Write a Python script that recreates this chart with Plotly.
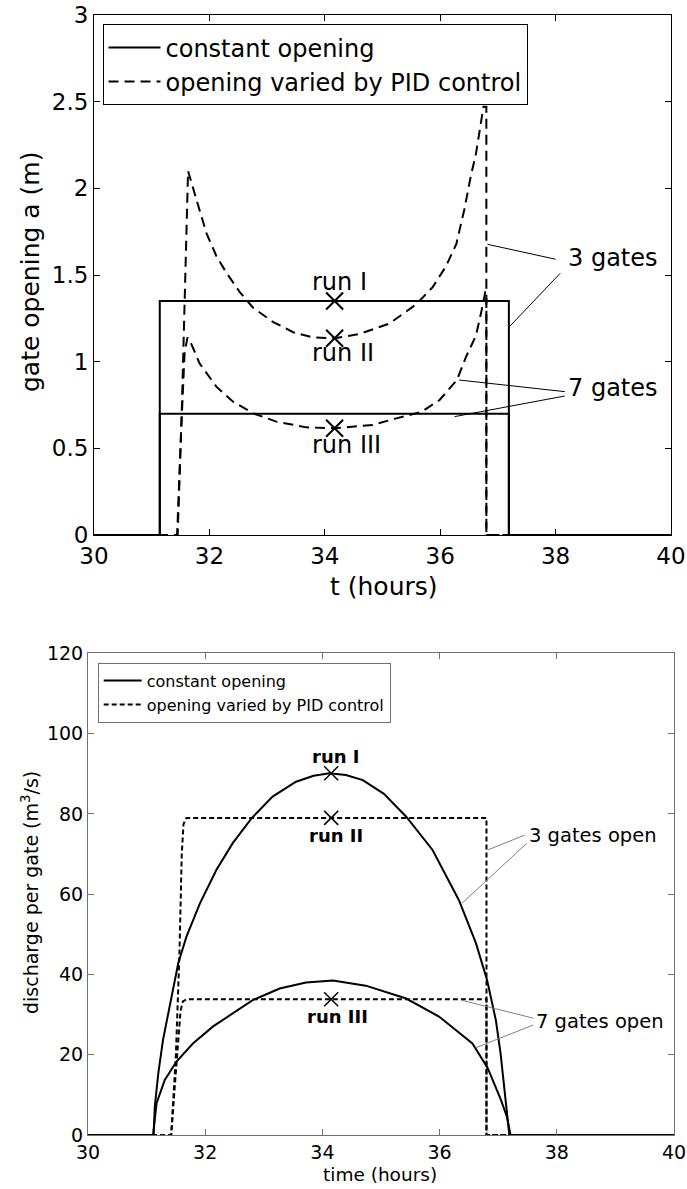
import plotly.graph_objects as go

# ---------------- data: top chart (gate opening) ----------------
t_const = [30, 31.14, 31.14, 37.19, 37.19, 40]
a_const_3 = [0, 0, 1.35, 1.35, 0, 0]
a_const_7 = [0, 0, 0.70, 0.70, 0, 0]

t_pid3 = [30, 31.45, 31.52, 31.57, 31.61, 31.63, 31.78, 31.95, 32.12, 32.30, 32.53, 32.76,
          33.10, 33.45, 33.79, 34.17, 34.60, 35.12, 35.58, 35.87, 36.10, 36.28, 36.42,
          36.53, 36.62, 36.71, 36.75, 36.80, 36.80, 40]
a_pid3 = [0, 0, 0.70, 1.40, 2.00, 2.10, 1.93, 1.74, 1.61, 1.51, 1.40, 1.31,
          1.23, 1.17, 1.14, 1.135, 1.16, 1.22, 1.33, 1.43, 1.55, 1.68, 1.88,
          2.07, 2.20, 2.40, 2.47, 2.47, 0, 0]

t_pid7 = [30, 31.44, 31.51, 31.57, 31.62, 31.69, 31.83, 32.12, 32.41, 32.76, 33.16, 33.68,
          34.17, 34.83, 35.24, 35.68, 35.99, 36.29, 36.45, 36.62, 36.72, 36.78, 36.80, 36.80, 40]
a_pid7 = [0, 0, 0.60, 1.05, 1.14, 1.10, 0.99, 0.856, 0.769, 0.702, 0.654, 0.621,
          0.616, 0.635, 0.673, 0.711, 0.779, 0.894, 1.03, 1.15, 1.30, 1.40, 1.40, 0, 0]

runs_top_t = [34.17, 34.17, 34.17]
runs_top_a = [1.35, 1.135, 0.616]

# ---------------- data: bottom chart (discharge) ----------------
t_q3 = [30, 31.12, 31.14, 31.20, 31.28, 31.40, 31.54, 31.68, 31.91, 32.19, 32.47, 32.79,
        33.15, 33.55, 33.85, 34.12, 34.40, 34.69, 35.05, 35.43, 35.88, 36.33, 36.62, 36.81,
        36.96, 37.04, 37.15, 37.19, 40]
q_const_3 = [0, 0, 7.1, 15.4, 23.7, 32.8, 42.8, 49.4, 57.7, 66.0, 72.7, 78.9,
             84.3, 88.0, 89.5, 90.1, 89.7, 88.4, 85.0, 79.3, 71.0, 58.5, 47.8, 38.6,
             28.6, 20.4, 6.2, 0, 0]

t_q7 = [30, 31.11, 31.17, 31.31, 31.51, 31.79, 32.13, 32.47, 32.81, 33.27, 33.72,
        34.18, 34.74, 35.43, 35.99, 36.56, 36.82, 37.04, 37.15, 37.21, 40]
q_const_7 = [0, 0, 7.9, 13.7, 18.3, 22.8, 27.0, 30.3, 33.6, 36.5, 38.0,
             38.5, 37.2, 34.0, 29.5, 22.8, 16.7, 9.0, 4.5, 0, 0]

t_qpid3 = [30, 31.42, 31.50, 31.56, 31.60, 31.63, 31.68, 36.80, 36.80, 40]
q_pid_3 = [0, 0, 20, 45, 70, 77.5, 79, 79, 0, 0]

t_qpid7 = [30, 31.42, 31.48, 31.54, 31.58, 31.62, 31.68, 36.80, 36.80, 40]
q_pid_7 = [0, 0, 12, 24, 31, 33.3, 33.8, 33.8, 0, 0]

runs_bot_t = [34.15, 34.15, 34.15]
runs_bot_q = [90.1, 79.0, 33.8]

FONT = "DejaVu Sans, Liberation Sans, Arial, sans-serif"

fig = go.Figure()

# top chart traces
fig.add_trace(go.Scatter(x=t_const, y=a_const_3, mode="lines", name="constant opening",
                         line=dict(color="black", width=2), xaxis="x", yaxis="y", legend="legend"))
fig.add_trace(go.Scatter(x=t_const, y=a_const_7, mode="lines", showlegend=False,
                         line=dict(color="black", width=2), xaxis="x", yaxis="y"))
fig.add_trace(go.Scatter(x=t_pid3, y=a_pid3, mode="lines", name="opening varied by PID control",
                         line=dict(color="black", width=2, dash="10px,6px"), xaxis="x", yaxis="y",
                         legend="legend"))
fig.add_trace(go.Scatter(x=t_pid7, y=a_pid7, mode="lines", showlegend=False,
                         line=dict(color="black", width=2, dash="10px,6px"), xaxis="x", yaxis="y"))
fig.add_trace(go.Scatter(x=runs_top_t, y=runs_top_a, mode="markers", showlegend=False,
                         marker=dict(symbol="x-thin-open", size=17, color="black",
                                     line=dict(color="black", width=2)),
                         xaxis="x", yaxis="y"))

# bottom chart traces
fig.add_trace(go.Scatter(x=t_q3, y=q_const_3, mode="lines", name="constant opening",
                         line=dict(color="black", width=2), xaxis="x2", yaxis="y2", legend="legend2"))
fig.add_trace(go.Scatter(x=t_q7, y=q_const_7, mode="lines", showlegend=False,
                         line=dict(color="black", width=2), xaxis="x2", yaxis="y2"))
fig.add_trace(go.Scatter(x=t_qpid3, y=q_pid_3, mode="lines", name="opening varied by PID control",
                         line=dict(color="black", width=2, dash="5px,3px"), xaxis="x2", yaxis="y2",
                         legend="legend2"))
fig.add_trace(go.Scatter(x=t_qpid7, y=q_pid_7, mode="lines", showlegend=False,
                         line=dict(color="black", width=2, dash="5px,3px"), xaxis="x2", yaxis="y2"))
fig.add_trace(go.Scatter(x=runs_bot_t, y=runs_bot_q, mode="markers", showlegend=False,
                         marker=dict(symbol="x-thin-open", size=14, color="black",
                                     line=dict(color="black", width=1.5)),
                         xaxis="x2", yaxis="y2"))

W, H = 687, 1189
def px_x(p):
    return p / W
def px_y(p):
    return 1 - p / H

top_ax = dict(showgrid=False, zeroline=False, showline=True, linecolor="black", linewidth=1,
              mirror="ticks", ticks="inside", ticklen=6, tickcolor="black",
              ticklabeloverflow="allow",
              tickfont=dict(family=FONT, size=23, color="black"), automargin=False)
bot_ax = dict(showgrid=False, zeroline=False, showline=True, linecolor="#707070", linewidth=1,
              mirror="ticks", ticks="inside", ticklen=6, tickcolor="#707070",
              ticklabeloverflow="allow",
              tickfont=dict(family=FONT, size=19, color="black"), automargin=False)

fig.update_layout(
    width=W, height=H, margin=dict(l=0, r=0, t=0, b=0),
    paper_bgcolor="white", plot_bgcolor="white",
    xaxis=dict(top_ax, domain=[px_x(94), px_x(671)], range=[30, 40], dtick=2, anchor="y"),
    yaxis=dict(top_ax, domain=[px_y(535), px_y(15)], range=[0, 3], dtick=0.5, anchor="x"),
    xaxis2=dict(bot_ax, domain=[px_x(88), px_x(674)], range=[30, 40], dtick=2, anchor="y2"),
    yaxis2=dict(bot_ax, domain=[px_y(1135), px_y(653.3)], range=[0, 120], dtick=20, anchor="x2"),
    legend=dict(x=px_x(102.5), y=px_y(24.3), xanchor="left", yanchor="top",
                bgcolor="white", bordercolor="black", borderwidth=1, itemwidth=52,
                font=dict(family=FONT, size=24, color="black"), tracegroupgap=0),
    legend2=dict(x=px_x(97.7), y=px_y(662.7), xanchor="left", yanchor="top",
                 bgcolor="white", bordercolor="#707070", borderwidth=1, itemwidth=38,
                 font=dict(family=FONT, size=16, color="black"), tracegroupgap=0),
)

ann = []
def lab(text, x, y, size, xref="paper", yref="paper", angle=0):
    return dict(text=text, x=x, y=y, xref=xref, yref=yref, textangle=angle, showarrow=False,
                xanchor="center", yanchor="middle", font=dict(family=FONT, size=size, color="black"))

# axis titles
ann.append(lab("gate opening a (m)", px_x(30), px_y(272), 25, angle=-90))
ann.append(lab("t (hours)", px_x(384), px_y(586), 25))
ann.append(lab("discharge per gate (m<sup>3</sup>/s)", px_x(30), px_y(893), 19, angle=-90))
ann.append(lab("time (hours)", px_x(380), px_y(1174), 18.5))

# top labels
for txt, x, y in [("run I", 34.26, 1.462), ("run II", 34.31, 1.048), ("run III", 34.37, 0.519),
                  ("3 gates", 39.0, 1.597), ("7 gates", 38.99, 0.846)]:
    ann.append(lab(txt, x, y, 24, "x", "y"))
# bottom labels
for txt, x, y in [("run I", 34.23, 94.2), ("run II", 34.23, 74.7), ("run III", 34.26, 29.6)]:
    ann.append(lab("<b>" + txt + "</b>", x, y, 18, "x2", "y2"))
for txt, x, y in [("3 gates open", 38.61, 74.7), ("7 gates open", 38.73, 28.2)]:
    ann.append(lab(txt, x, y, 19.5, "x2", "y2"))
fig.update_layout(annotations=ann)

shapes = []
for x0, y0, x1, y1 in [(36.82, 1.677, 38.0, 1.591), (37.20, 1.202, 38.08, 1.51),
                       (36.33, 0.894, 38.16, 0.827), (36.25, 0.683, 38.16, 0.802)]:
    shapes.append(dict(type="line", xref="x", yref="y", x0=x0, y0=y0, x1=x1, y1=y1,
                       line=dict(color="black", width=1)))
for x0, y0, x1, y1 in [(36.82, 71, 37.45, 74.7), (36.38, 57.7, 37.49, 72.7),
                       (36.37, 33.6, 37.60, 29.1), (36.61, 21.7, 37.60, 27.4)]:
    shapes.append(dict(type="line", xref="x2", yref="y2", x0=x0, y0=y0, x1=x1, y1=y1,
                       line=dict(color="#808080", width=1)))
fig.update_layout(shapes=shapes)

fig.write_html("out.html", config={"displayModeBar": False},
               post_script="document.body.style.margin='0';document.body.style.padding='0';"
                           "document.body.style.overflow='hidden';")
